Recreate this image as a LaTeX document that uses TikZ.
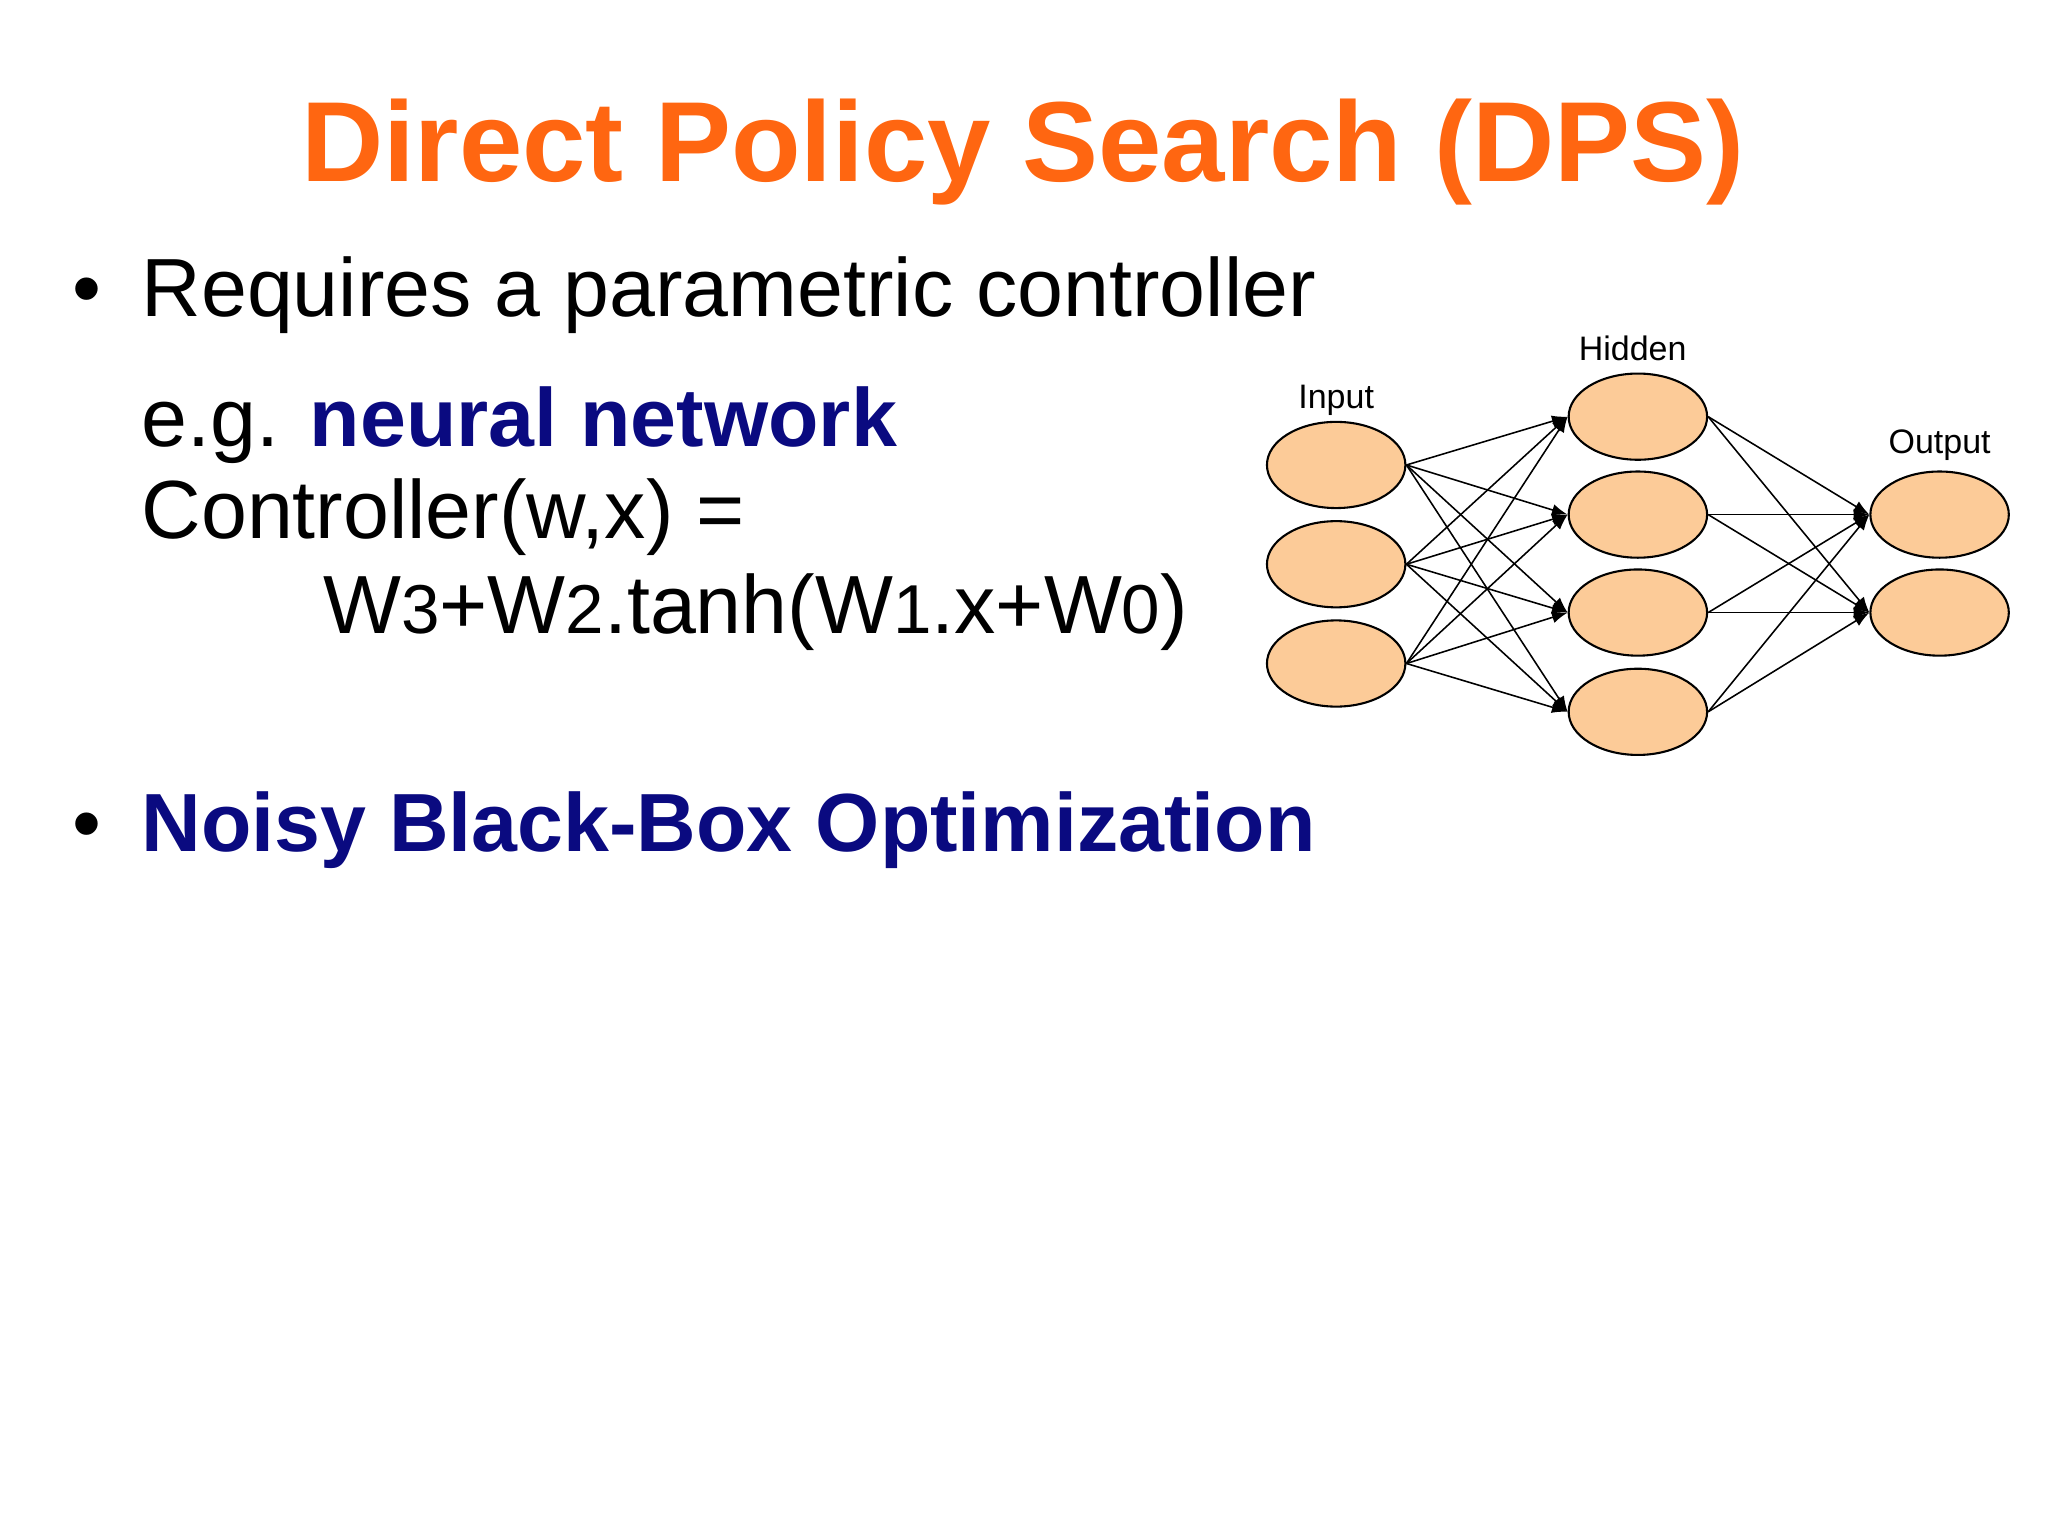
\documentclass[tikz,border=0pt]{standalone}
\usepackage{fontspec}
\setmainfont{Liberation Sans}
\usetikzlibrary{arrows.meta,shapes.geometric}
\definecolor{ttl}{HTML}{FF6611}
\definecolor{navy}{HTML}{0A0A80}
\definecolor{neur}{HTML}{FCCB98}
\begin{document}
\begin{tikzpicture}[x=0.5pt,y=-0.5pt,
  txt/.style={anchor=base west,inner sep=0,font=\fontsize{31.6}{36}\selectfont},
  neuron/.style={ellipse,draw=black,line width=0.8pt,fill=neur,minimum width=53pt,minimum height=33pt,inner sep=0},
  lbl/.style={font=\fontsize{13}{15}\selectfont,anchor=base},
  edge/.style={-{Latex[length=6pt,width=4.5pt]},line width=0.6pt}]
\useasboundingbox (0,0) rectangle (1568,1176);
\node[anchor=base,inner sep=0,text=ttl,font=\fontsize{43.6}{50}\selectfont\bfseries] (title) at (783,139) {Direct Policy Search (DPS)};
\node[txt] (b1) at (55,242) {•};
\node[txt] (l1) at (108,242) {Requires a parametric controller};
\node[txt] (l2) at (108,342) {e.g. \textcolor{navy}{\bfseries neural network}};
\node[txt] (l3) at (108,412) {Controller(w,x) =};
\node[txt] (l4) at (247,485) {W{\fontsize{26.5}{30}\selectfont 3}+W{\fontsize{26.5}{30}\selectfont 2}.tanh(W{\fontsize{26.5}{30}\selectfont 1}.x+W{\fontsize{26.5}{30}\selectfont 0})};
\node[txt] (b2) at (55,652) {•};
\node[txt,text=navy,font=\fontsize{31.6}{36}\selectfont\bfseries] (l5) at (108,652) {Noisy Black-Box Optimization};
\foreach \i/\y in {1/356,2/432,3/508} \node[neuron] (i\i) at (1023,\y) {};
\foreach \i/\y in {1/319,2/394,3/469,4/545} \node[neuron] (h\i) at (1254,\y) {};
\foreach \i/\y in {1/394,2/469} \node[neuron] (o\i) at (1485,\y) {};
\node[lbl] (tin) at (1023,313) {Input};
\node[lbl] (thid) at (1250,276) {Hidden};
\node[lbl] (tout) at (1485,347) {Output};
\foreach \a in {1,2,3} \foreach \b in {1,2,3,4} \draw[edge] (i\a.east) -- (h\b.west);
\foreach \a in {1,2,3,4} \foreach \b in {1,2} \draw[edge] (h\a.east) -- (o\b.west);
\end{tikzpicture}
\end{document}
